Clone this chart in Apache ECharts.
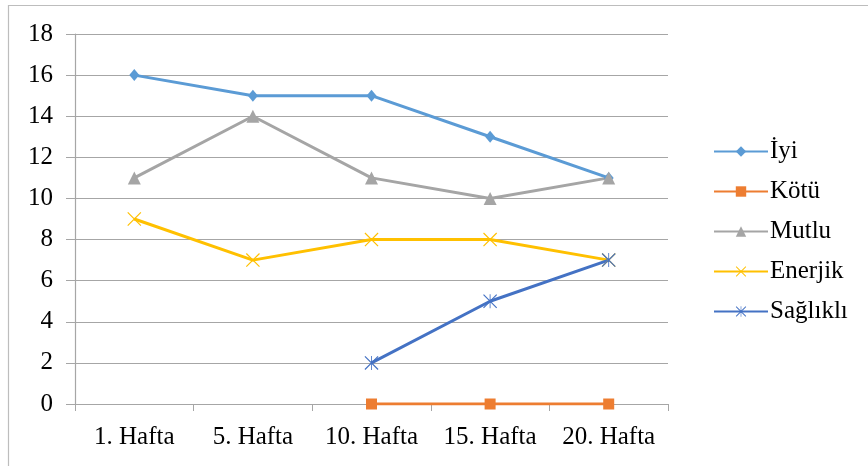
<!DOCTYPE html>
<html><head><meta charset="utf-8">
<script src="https://cdn.jsdelivr.net/npm/echarts@6/dist/echarts.min.js"></script>
<style>html,body{margin:0;padding:0;background:#fff}#c{width:868px;height:466px}</style>
</head><body><div id="c"></div>
<script>
const categories = ['1. Hafta','5. Hafta','10. Hafta','15. Hafta','20. Hafta'];
const iyi = [16, 15, 15, 13, 11];
const kotu = [null, null, 0, 0, 0];
const mutlu = [11, 14, 11, 10, 11];
const enerjik = [9, 7, 8, 8, 7];
const saglikli = [null, null, 2, 5, 7];
const yTicks = {min: 0, max: 18, interval: 2};

const font = 'Liberation Serif';
const xPath = 'path://M0,0.6 L0.6,0 L10,9.4 L9.4,10 Z M9.4,0 L10,0.6 L0.6,10 L0,9.4 Z';
const starPath = 'path://M0,0.6 L0.6,0 L10,9.4 L9.4,10 Z M9.4,0 L10,0.6 L0.6,10 L0,9.4 Z M4.7,0 L5.3,0 L5.3,10 L4.7,10 Z';

function s(name, data, color, symbol, size) {
  return {name, type: 'line', data, symbol, symbolSize: size, showSymbol: true,
    lineStyle: {color, width: 3}, itemStyle: {color}, connectNulls: false, animation: false};
}

const chart = echarts.init(document.getElementById('c'));
chart.setOption({
  animation: false,
  textStyle: {fontFamily: font},
  graphic: [{type: 'rect', shape: {x: 8.5, y: 5.5, width: 900, height: 500}, style: {fill: 'none', stroke: '#BDBDBD', lineWidth: 1.2}, silent: true, z: -1}],
  grid: {left: 75, right: 200, top: 34, bottom: 62, containLabel: false},
  xAxis: {type: 'category', data: categories, boundaryGap: true,
    axisLine: {lineStyle: {color: '#A6A6A6', width: 1.2}},
    axisTick: {show: true, length: 7, lineStyle: {color: '#A6A6A6'}},
    axisLabel: {color: '#000', fontFamily: font, fontSize: 25, margin: 21, interval: 0, hideOverlap: false}},
  yAxis: {type: 'value', min: yTicks.min, max: yTicks.max, interval: yTicks.interval,
    axisLine: {show: true, lineStyle: {color: '#A6A6A6', width: 1.2}},
    axisTick: {show: true, length: 9, lineStyle: {color: '#A6A6A6'}},
    splitLine: {lineStyle: {color: '#A6A6A6', width: 1.2}},
    axisLabel: {color: '#000', fontFamily: font, fontSize: 25, margin: 22}},
  legend: {orient: 'vertical', left: 708, top: 134, itemWidth: 54, itemHeight: 13, itemGap: 15,
    textStyle: {color: '#000', fontFamily: font, fontSize: 25, padding: [0,0,0,-3]}},
  series: [
    s('İyi', iyi, '#5B9BD5', 'diamond', [10, 12]),
    s('Kötü', kotu, '#ED7D31', 'rect', 11),
    s('Mutlu', mutlu, '#A5A5A5', 'triangle', 13),
    s('Enerjik', enerjik, '#FFC000', xPath, 14),
    s('Sağlıklı', saglikli, '#4472C4', starPath, 14)
  ]
});
</script></body></html>
